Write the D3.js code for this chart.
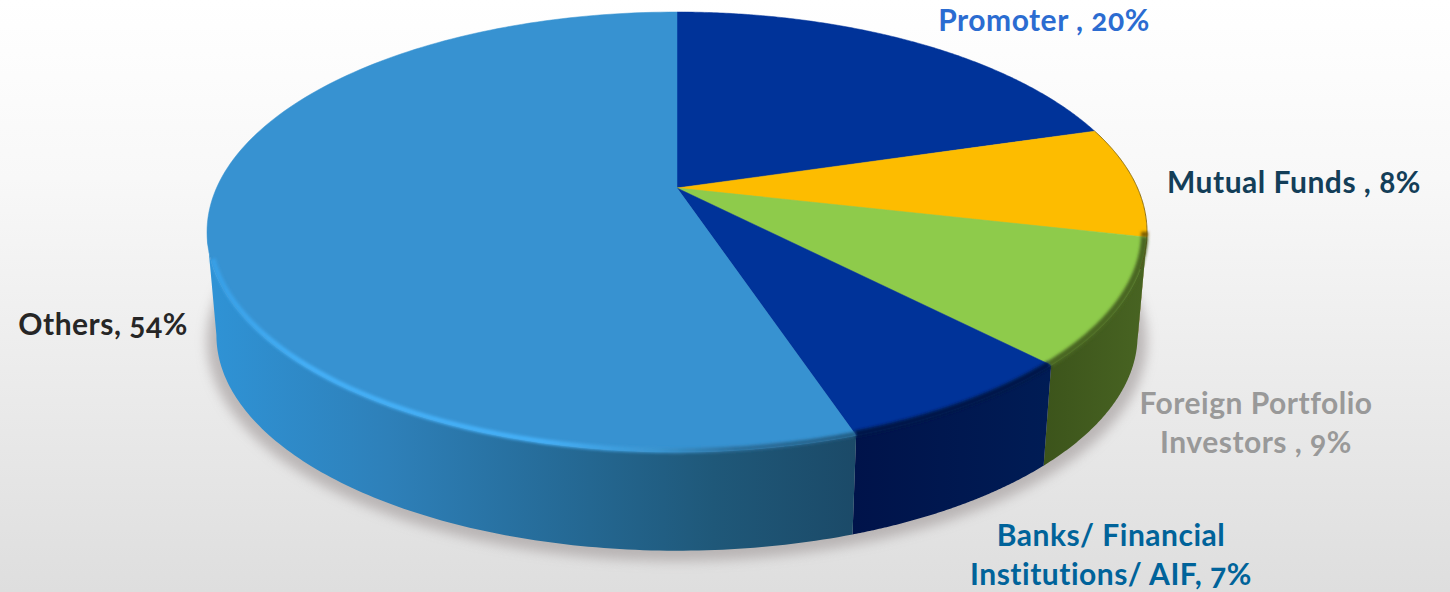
<!DOCTYPE html>
<html>
<head>
<meta charset="utf-8">
<script src="https://cdnjs.cloudflare.com/ajax/libs/d3/7.9.0/d3.min.js"></script>
<style>
html, body { margin: 0; padding: 0; background: #fff; overflow: hidden; }
svg { display: block; }
text {
  font-family: "Lato", "Open Sans", sans-serif;
  font-weight: 700;
  font-variant-numeric: oldstyle-nums;
  font-feature-settings: "onum" 1;
  letter-spacing: 0.5px;
}
</style>
</head>
<body>
<svg id="chart" width="1450" height="592"></svg>
<script>
// Shareholding split, in per cent
const categories = ["Promoter", "Mutual Funds", "Foreign Portfolio Investors", "Banks/ Financial Institutions/ AIF", "Others"];
const shares = [20, 8, 9, 7, 54];

// Palette per slice: top face, then wall gradient stops
const topColors = ["#003399", "#fdbc00", "#8ecb4b", "#003399", "#3792d1"];
const wallStops = [
  [["0%", "#001a55"], ["100%", "#001a55"]],
  [["0%", "#7a5c00"], ["100%", "#7a5c00"]],
  [["0%", "#3c541b"], ["100%", "#486422"]],
  [["0%", "#00134a"], ["100%", "#001c55"]],
  [["0%", "#2f93d6"], ["28%", "#2e80b9"], ["55%", "#256a96"], ["78%", "#1f5879"], ["100%", "#1b4a68"]]
];

// Label text, anchor and colour
const labelRows = [
  { lines: ["Promoter , 20%"], x: 1044, y: [31], color: "#2b6cd1" },
  { lines: ["Mutual Funds , 8%"], x: 1294, y: [193], color: "#133e58" },
  { lines: ["Foreign Portfolio", "Investors , 9%"], x: 1256, y: [414, 453], color: "#999999" },
  { lines: ["Banks/ Financial", "Institutions/ AIF, 7%"], x: 1111, y: [546, 585], color: "#00639a" },
  { lines: ["Others, 54%"], x: 103, y: [335], color: "#262626" }
];

const svg = d3.select("#chart");
const defs = svg.append("defs");

const bg = defs.append("linearGradient").attr("id", "bg").attr("x1", 0).attr("y1", 0).attr("x2", 0).attr("y2", 1);
bg.append("stop").attr("offset", "0%").attr("stop-color", "#ffffff");
bg.append("stop").attr("offset", "30%").attr("stop-color", "#f8f8f8");
bg.append("stop").attr("offset", "100%").attr("stop-color", "#dedede");
svg.append("rect").attr("width", 1450).attr("height", 592).attr("fill", "url(#bg)");

defs.append("filter").attr("id", "soft").attr("x", "-10%").attr("y", "-10%").attr("width", "120%").attr("height", "130%")
  .append("feGaussianBlur").attr("stdDeviation", 6);
defs.append("filter").attr("id", "rim").attr("filterUnits", "userSpaceOnUse")
  .attr("x", 0).attr("y", 0).attr("width", 1450).attr("height", 592)
  .append("feGaussianBlur").attr("stdDeviation", 1.8);
defs.append("filter").attr("id", "edge").attr("filterUnits", "userSpaceOnUse")
  .attr("x", 0).attr("y", 0).attr("width", 1450).attr("height", 592)
  .append("feGaussianBlur").attr("stdDeviation", 0.6);

// Perspective mapping of the unit disc onto the tilted top face
const cx = 677, apexY = 188, tilt = -0.2, radX = 460.5, radY = 211.2;
const wallDrop = { scale: 0.98, apexY: 292 };

function project(angle, scale = 1, originY = apexY) {
  const u = Math.sin(angle), v = -Math.cos(angle);
  const w = 1 + tilt * v;
  return [cx + scale * radX * u / w, originY + scale * radY * v / w];
}
const samples = (a0, a1, n = 120) => d3.range(n + 1).map(i => a0 + (a1 - a0) * i / n);
const line = d3.line();

const pie = d3.pie().sort(null)(shares);

// Soft ground shadow under the disc
const fullTurn = samples(0, 2 * Math.PI, 240);
svg.append("path")
  .attr("d", line(fullTurn.map(a => project(a, 1.0, 297))) + "Z")
  .attr("fill", "#a8a2a2").attr("opacity", 0.7).attr("filter", "url(#soft)");

// Walls run between the two silhouette tangents, where the strip folds behind the disc
const tangent = Math.PI / 2 + Math.asin(-tilt);
const frontStart = tangent, frontEnd = 2 * Math.PI - tangent;
pie.forEach((d, i) => {
  const a0 = Math.max(d.startAngle, frontStart), a1 = Math.min(d.endAngle, frontEnd);
  if (a1 <= a0) return;
  const angles = samples(a0, a1);
  const rimPts = angles.map(a => project(a));
  const basePts = angles.map(a => project(a, wallDrop.scale, wallDrop.apexY)).reverse();
  const xs = rimPts.concat(basePts).map(p => p[0]);
  const g = defs.append("linearGradient").attr("id", "wall" + i)
    .attr("gradientUnits", "userSpaceOnUse")
    .attr("x1", d3.min(xs)).attr("x2", d3.max(xs)).attr("y1", 0).attr("y2", 0);
  wallStops[i].forEach(s => g.append("stop").attr("offset", s[0]).attr("stop-color", s[1]));
  svg.append("path")
    .attr("d", line(rimPts.concat(basePts)) + "Z")
    .attr("fill", `url(#wall${i})`);
});

// Top face
pie.forEach((d, i) => {
  const pts = [[cx, apexY]].concat(samples(d.startAngle, d.endAngle, 160).map(a => project(a)));
  svg.append("path")
    .attr("d", line(pts) + "Z")
    .attr("fill", topColors[i])
    .attr("stroke", topColors[i]).attr("stroke-width", 0.5)
    .attr("stroke-linejoin", "round");
});

// Rounded bevel along the front rim
const rimGrad = defs.append("linearGradient").attr("id", "rimOthers")
  .attr("gradientUnits", "userSpaceOnUse").attr("x1", 207).attr("x2", 853).attr("y1", 0).attr("y2", 0);
[["0%", "#379fe6"], ["15%", "#44b0f8"], ["52%", "#45b0f8"], ["70%", "#3a94cf"], ["82%", "#2c6f9c"], ["100%", "#235f86"]]
  .forEach(s => rimGrad.append("stop").attr("offset", s[0]).attr("stop-color", s[1]));

const rimColors = ["#001a55", "#7a5c00", "#4a6622", "#00134a", "url(#rimOthers)"];
pie.forEach((d, i) => {
  const a0 = Math.max(d.startAngle, frontStart);
  const a1 = Math.min(d.endAngle, frontEnd - 0.12);
  if (a1 <= a0) return;
  svg.append("path")
    .attr("d", line(samples(a0, a1).map(a => project(a, 0.995))))
    .attr("fill", "none")
    .attr("stroke", rimColors[i])
    .attr("stroke-width", i === 4 ? 5 : 7)
    .attr("filter", "url(#rim)");
});

// Thin dark edge on the far right of the disc
svg.append("path")
  .attr("d", line(samples(pie[1].startAngle, pie[2].startAngle + 0.14).map(a => project(a))))
  .attr("fill", "none").attr("stroke", "#4a3c10").attr("stroke-width", 1)
  .attr("opacity", 0.6).attr("filter", "url(#edge)");

// Labels
labelRows.forEach(row => {
  const t = svg.append("text").attr("text-anchor", "middle").attr("fill", row.color)
    .attr("font-size", 30);
  row.lines.forEach((s, j) => {
    t.append("tspan").attr("x", row.x).attr("y", row.y[j]).text(s);
  });
});
</script>
</body>
</html>
